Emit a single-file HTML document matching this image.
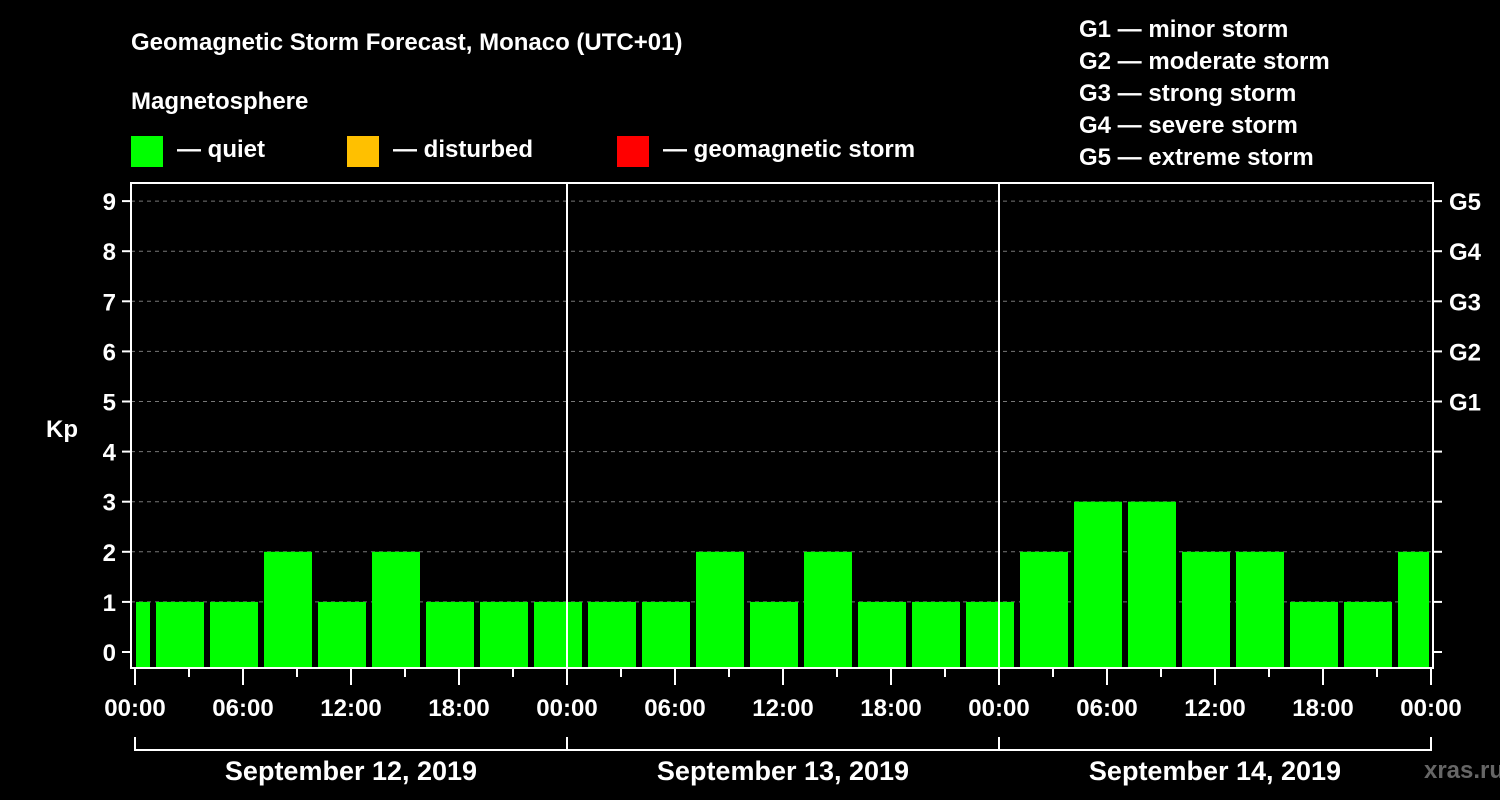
<!DOCTYPE html>
<html><head><meta charset="utf-8"><style>
body{margin:0;background:#000;width:1500px;height:800px;overflow:hidden}
svg{display:block;font-family:"Liberation Sans",Arial,sans-serif;font-weight:bold}
</style></head><body>
<svg id="c" width="1500" height="800">
<text x="131" y="50" fill="#fff" font-size="24">Geomagnetic Storm Forecast, Monaco (UTC+01)</text>
<text x="131" y="109" fill="#fff" font-size="24">Magnetosphere</text>
<rect x="131" y="136" width="32" height="31" fill="#00ff00"/>
<text x="177" y="157" fill="#fff" font-size="24">— quiet</text>
<rect x="347" y="136" width="32" height="31" fill="#ffc000"/>
<text x="393" y="157" fill="#fff" font-size="24">— disturbed</text>
<rect x="617" y="136" width="32" height="31" fill="#ff0000"/>
<text x="663" y="157" fill="#fff" font-size="24">— geomagnetic storm</text>
<g fill="#fff" font-size="24">
<text x="1079" y="37">G1 — minor storm</text>
<text x="1079" y="69">G2 — moderate storm</text>
<text x="1079" y="101">G3 — strong storm</text>
<text x="1079" y="133">G4 — severe storm</text>
<text x="1079" y="165">G5 — extreme storm</text>
</g>
<text x="62" y="437" fill="#fff" font-size="24" text-anchor="middle">Kp</text>
<text x="1464" y="778" fill="#666" font-size="24" text-anchor="middle">xras.ru</text>
<g id="grid"></g><g id="bars"></g><g id="axes"></g>
</svg>
<script>
const kpValues=[1,1,1,2,1,2,1,1,1,1,1,2,1,2,1,1,1,2,3,3,2,2,1,1,2];
const barStartHours=[-2,1,4,7,10,13,16,19,22,25,28,31,34,37,40,43,46,49,52,55,58,61,64,67,70];
const yTicks=[0,1,2,3,4,5,6,7,8,9];
const gLabels=["G1","G2","G3","G4","G5"];
const xTickLabels=["00:00","06:00","12:00","18:00","00:00","06:00","12:00","18:00","00:00","06:00","12:00","18:00","00:00"];
const dayLabels=["September 12, 2019","September 13, 2019","September 14, 2019"];
const NS="http://www.w3.org/2000/svg";
const X0=135,PXH=18,L=131,R=1433,T=183,B=668;
const x=h=>X0+PXH*h, y=v=>652-50.1*v;
function mk(p,tag,a){const e=document.createElementNS(NS,tag);for(const k in a)e.setAttribute(k,a[k]);document.getElementById(p).appendChild(e);return e;}
yTicks.forEach(v=>{if(v>0){const g=mk('grid','line',{x1:L,x2:R,y1:y(v),y2:y(v),stroke:'#777','stroke-dasharray':'4,4','stroke-width':1});

}
const t=mk('axes','line',{x1:122,x2:L,y1:y(v),y2:y(v),stroke:'#fff','stroke-width':2});


const t2=mk('axes','line',{x1:R,x2:1442,y1:y(v),y2:y(v),stroke:'#fff','stroke-width':2});


const lb=mk('axes','text',{x:116,y:y(v)+9,fill:'#fff','font-size':24,'text-anchor':'end'});lb.textContent=v;


if(v>=5){const g=mk('axes','text',{x:1449,y:y(v)+9,fill:'#fff','font-size':24});g.textContent=gLabels[v-5];

}});
kpValues.forEach((v,i)=>{const s=Math.max(x(barStartHours[i])+3,L+5),e=Math.min(x(barStartHours[i]+3)-3,R-4);
const b=mk('bars','rect',{x:s,y:y(v),width:e-s,height:B-y(v),fill:v>=5?'#ff0000':v>=4?'#ffc000':'#00ff00'});

});
[1,2].forEach(d=>{const l=mk('axes','line',{x1:x(24*d),x2:x(24*d),y1:T,y2:B,stroke:'#fff','stroke-width':2});

});
const fr=mk('axes','path',{d:`M${L},${T}H${R}V${B}H${L}Z`,fill:'none',stroke:'#fff','stroke-width':2});


for(let h=0;h<=72;h+=3){const maj=h%6==0;const t=mk('axes','line',{x1:x(h),x2:x(h),y1:B,y2:maj?685:677,stroke:'#fff','stroke-width':2});

}
xTickLabels.forEach((s,i)=>{const t=mk('axes','text',{x:x(6*i),y:716,fill:'#fff','font-size':24,'text-anchor':'middle'});t.textContent=s;

});
const br=mk('axes','path',{d:`M${x(0)},737V750H${x(72)}V737M${x(24)},737V750M${x(48)},737V750`,fill:'none',stroke:'#fff','stroke-width':2});


dayLabels.forEach((s,i)=>{const t=mk('axes','text',{x:x(24*i+12),y:780,fill:'#fff','font-size':27,'text-anchor':'middle'});t.textContent=s;

});
</script>
</body></html>
